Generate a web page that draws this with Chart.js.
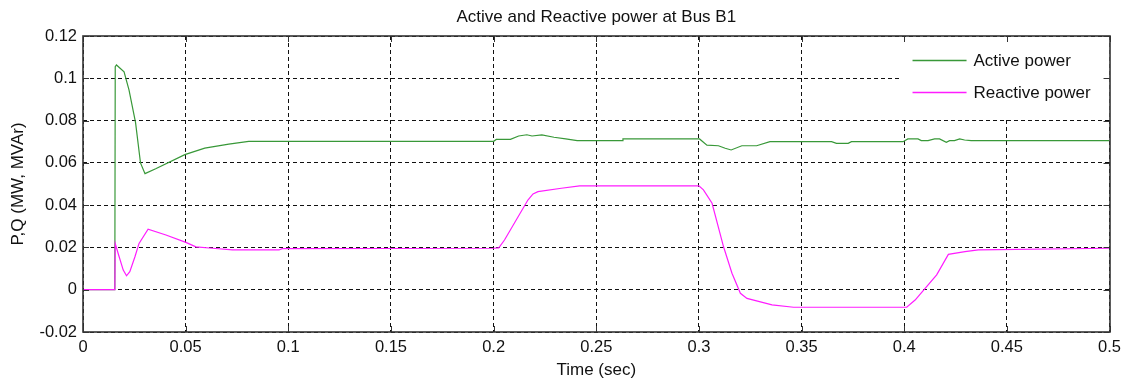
<!DOCTYPE html>
<html>
<head>
<meta charset="utf-8">
<title>Active and Reactive power at Bus B1</title>
<script src="https://cdn.jsdelivr.net/npm/chart.js@4.4.1/dist/chart.umd.min.js"></script>
<style>
    html, body { margin: 0; padding: 0; background: #fff; }
    #chartBox { width: 1127px; height: 387px; }
</style>
</head>
<body>
<div id="chartBox"><canvas id="powerChart"></canvas></div>
<script>
// simulation output at bus B1 (time in seconds)
const activeTime = [0, 0.0155, 0.0157, 0.0163, 0.0200, 0.0224, 0.0256, 0.0280, 0.0302, 0.0354,
    0.0496, 0.0593, 0.0710, 0.0807, 0.2000, 0.2013, 0.2082, 0.2122, 0.2162, 0.2187,
    0.2235, 0.2294, 0.2351, 0.2407, 0.2626, 0.2630, 0.3003, 0.3039, 0.3095, 0.3128,
    0.3157, 0.3209, 0.3281, 0.3346, 0.3646, 0.3670, 0.3727, 0.3743, 0.3994, 0.4018,
    0.4067, 0.4083, 0.4116, 0.4148, 0.4172, 0.4205, 0.4221, 0.4245, 0.4270, 0.4294,
    0.4326, 0.5000];
const activePower = [0, 0, 0.1055, 0.1063, 0.1031, 0.0945, 0.0790, 0.0600, 0.0549, 0.0572,
    0.0639, 0.0670, 0.0689, 0.0702, 0.0702, 0.0711, 0.0711, 0.0727, 0.0733, 0.0727,
    0.0732, 0.0721, 0.0713, 0.0705, 0.0705, 0.0713, 0.0713, 0.0684, 0.0681, 0.0669,
    0.0661, 0.0681, 0.0681, 0.0700, 0.0700, 0.0692, 0.0692, 0.0700, 0.0700, 0.0713,
    0.0713, 0.0705, 0.0705, 0.0713, 0.0713, 0.0697, 0.0705, 0.0705, 0.0713, 0.0708,
    0.0705, 0.0705];

const reactiveTime = [0, 0.0155, 0.0157, 0.0172, 0.0196, 0.0212, 0.0228, 0.0253, 0.0273, 0.0317,
    0.0404, 0.0501, 0.0550, 0.0631, 0.0728, 0.0955, 0.0970, 0.2000, 0.2025, 0.2053,
    0.2167, 0.2192, 0.2216, 0.2330, 0.2419, 0.3000, 0.3022, 0.3064, 0.3120, 0.3161,
    0.3202, 0.3234, 0.3356, 0.3461, 0.4012, 0.4053, 0.4158, 0.4215, 0.4296, 0.4361,
    0.5000];
const reactivePower = [0, 0, 0.0218, 0.0169, 0.0093, 0.0066, 0.0085, 0.0156, 0.0219, 0.0286,
    0.0259, 0.0224, 0.0203, 0.0196, 0.0188, 0.0188, 0.0194, 0.0196, 0.0198, 0.0235,
    0.0424, 0.0453, 0.0464, 0.0480, 0.0491, 0.0491, 0.0472, 0.0409, 0.0203, 0.0078,
    -0.0017, -0.0041, -0.0072, -0.0083, -0.0083, -0.0049, 0.0070, 0.0167, 0.0180, 0.0188,
    0.0196];

const seriesNames = ['Active power', 'Reactive power'];
const seriesColors = ['#389838', '#ff1cff'];

const timeRange = [0, 0.5];
const timeStep = 0.05;
const powerRange = [-0.02, 0.12];
const powerStep = 0.02;

const chartTitle = 'Active and Reactive power at Bus B1';

const FONT = 'Liberation Sans, Arial, Helvetica, sans-serif';
const TEXT = '#111';

function toPoints(xs, ys) {
    return xs.map((x, i) => ({ x: x, y: ys[i] }));
}

function tickText(value) {
    return String(Number(value.toFixed(2)));
}

// title centred over the plot area rather than the whole canvas
const plotTitle = {
    id: 'plotTitle',
    afterDraw(chart) {
        const { ctx, chartArea: a } = chart;
        ctx.save();
        ctx.font = '17px ' + FONT;
        ctx.fillStyle = TEXT;
        ctx.textAlign = 'center';
        ctx.textBaseline = 'middle';
        ctx.fillText(chartTitle, (a.left + a.right) / 2, a.top - 19);
        ctx.restore();
    }
};

// box with inward tick marks on all four sides, drawn over the grid
const axesFrame = {
    id: 'axesFrame',
    afterDraw(chart) {
        const { ctx, chartArea: a, scales } = chart;
        const len = 6;
        ctx.save();
        ctx.strokeStyle = '#333';
        ctx.lineWidth = 1;
        ctx.beginPath();
        scales.x.ticks.forEach(t => {
            const px = Math.round(scales.x.getPixelForValue(t.value)) + 0.5;
            ctx.moveTo(px, a.bottom); ctx.lineTo(px, a.bottom - len);
            ctx.moveTo(px, a.top); ctx.lineTo(px, a.top + len);
        });
        scales.y.ticks.forEach(t => {
            const py = Math.round(scales.y.getPixelForValue(t.value)) + 0.5;
            ctx.moveTo(a.left, py); ctx.lineTo(a.left + len, py);
            ctx.moveTo(a.right, py); ctx.lineTo(a.right - len, py);
        });
        ctx.stroke();
        ctx.lineWidth = 1.6;
        ctx.strokeRect(Math.round(a.left), Math.round(a.top),
            Math.round(a.right - a.left), Math.round(a.bottom - a.top));
        ctx.restore();
    }
};

// legend in the upper right corner, white box without border
const cornerLegend = {
    id: 'cornerLegend',
    afterDatasetsDraw(chart) {
        const { ctx, chartArea: a } = chart;
        const boxW = 209, boxH = 81;
        const bx = a.right - boxW, by = a.top + 1;
        ctx.save();
        ctx.fillStyle = '#fff';
        ctx.fillRect(bx, by, boxW, boxH);
        ctx.font = '17px ' + FONT;
        ctx.textBaseline = 'middle';
        ctx.fillStyle = TEXT;
        chart.data.datasets.forEach((ds, i) => {
            const rowY = by + 23.5 + i * 32;
            ctx.strokeStyle = ds.borderColor;
            ctx.lineWidth = 1.6;
            ctx.beginPath();
            ctx.moveTo(bx + 12, rowY);
            ctx.lineTo(bx + 66, rowY);
            ctx.stroke();
            ctx.fillText(ds.label, bx + 73, rowY + 1);
        });
        ctx.restore();
    }
};

const ctx = document.getElementById('powerChart').getContext('2d');
new Chart(ctx, {
    type: 'line',
    data: {
        datasets: [{
            label: seriesNames[0],
            data: toPoints(activeTime, activePower),
            borderColor: seriesColors[0],
            borderWidth: 1.2,
            pointRadius: 0,
            tension: 0,
            fill: false,
            order: 1
        }, {
            // reactive trace sits on top of the active one
            label: seriesNames[1],
            data: toPoints(reactiveTime, reactivePower),
            borderColor: seriesColors[1],
            borderWidth: 1.2,
            pointRadius: 0,
            tension: 0,
            fill: false,
            order: 0
        }]
    },
    options: {
        responsive: true,
        maintainAspectRatio: false,
        animation: false,
        layout: { padding: { left: 0, right: 15, top: 36, bottom: 0 } },
        plugins: {
            legend: { display: false },
            tooltip: { enabled: false },
            title: { display: false }
        },
        scales: {
            x: {
                type: 'linear',
                min: timeRange[0],
                max: timeRange[1],
                afterFit: scale => { scale.height = 55; },
                ticks: {
                    stepSize: timeStep,
                    color: TEXT,
                    padding: 6,
                    maxRotation: 0,
                    font: { family: FONT, size: 16.5 },
                    callback: tickText
                },
                grid: { color: '#111', lineWidth: 1, drawTicks: false },
                border: { display: false, dash: [4, 3] },
                title: {
                    display: true,
                    text: 'Time (sec)',
                    color: TEXT,
                    font: { family: FONT, size: 17 },
                    padding: { top: 0, bottom: 6 }
                }
            },
            y: {
                min: powerRange[0],
                max: powerRange[1],
                afterFit: scale => { scale.width = 83; },
                ticks: {
                    stepSize: powerStep,
                    color: TEXT,
                    padding: 6,
                    font: { family: FONT, size: 16.5 },
                    callback: tickText
                },
                grid: { color: '#111', lineWidth: 1, drawTicks: false },
                border: { display: false, dash: [4, 3] },
                title: {
                    display: true,
                    text: 'P,Q (MW, MVAr)',
                    color: TEXT,
                    font: { family: FONT, size: 17 },
                    padding: { top: 8, bottom: 0 }
                }
            }
        }
    },
    plugins: [cornerLegend, axesFrame, plotTitle]
});
</script>
</body>
</html>
